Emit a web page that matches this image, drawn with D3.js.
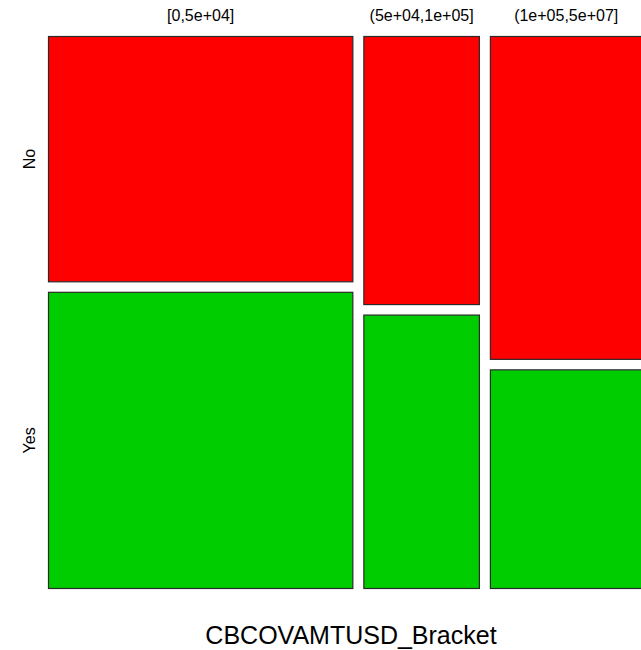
<!DOCTYPE html>
<html>
<head>
<meta charset="utf-8">
<script src="https://cdn.jsdelivr.net/npm/d3@7"></script>
<style>
  html, body { margin: 0; padding: 0; background: #ffffff; }
  svg { display: block; }
  text { font-family: "Liberation Sans", Arial, sans-serif; fill: #000; }
</style>
</head>
<body>
<svg id="chart" width="641" height="650"></svg>
<script>
// Contingency counts: coverage-amount bracket (columns) by outcome (rows)
const brackets = ["[0,5e+04]", "(5e+04,1e+05]", "(1e+05,5e+07]"];
const outcomes = ["No", "Yes"];
const countsNo  = [241, 100, 158];
const countsYes = [291, 102, 107];
const tileColors = ["#FF0000", "#00CD00"];
const xTitle = "CBCOVAMTUSD_Bracket";

const svg = d3.select("#chart");
// The last column runs slightly past the right edge of the canvas
const plot = { left: 48.5, right: 642, top: 36.5, bottom: 588.5 };
const gapX = 11, gapY = 10.5;

const totals = brackets.map((b, i) => countsNo[i] + countsYes[i]);
const grand = d3.sum(totals);

// Horizontal: column widths proportional to bracket totals
const usableW = (plot.right - plot.left) - gapX * (brackets.length - 1);
const xs = d3.scaleLinear().domain([0, grand]).range([0, usableW]);
const cumTotals = d3.cumsum([0, ...totals]);

// Vertical: split each column by the conditional share of each outcome
const usableH = (plot.bottom - plot.top) - gapY * (outcomes.length - 1);
const ys = d3.scaleLinear().domain([0, 1]).range([0, usableH]);

const tiles = [];
brackets.forEach((b, i) => {
  const x0 = plot.left + xs(cumTotals[i]) + i * gapX;
  const w = xs(totals[i]);
  const shares = [countsNo[i] / totals[i], countsYes[i] / totals[i]];
  let yCursor = plot.top;
  shares.forEach((s, j) => {
    const h = ys(s);
    tiles.push({ bracket: b, outcome: outcomes[j], x: x0, y: yCursor, w, h, color: tileColors[j], col: i, row: j });
    yCursor += h + gapY;
  });
});

svg.append("g")
  .selectAll("rect")
  .data(tiles)
  .join("rect")
  .attr("x", d => d.x)
  .attr("y", d => d.y)
  .attr("width", d => d.w)
  .attr("height", d => d.h)
  .attr("fill", d => d.color)
  .attr("stroke", "#2a2a2a")
  .attr("stroke-width", 1.2);

// Column labels along the top
svg.append("g")
  .selectAll("text")
  .data(brackets)
  .join("text")
  .attr("x", (b, i) => plot.left + xs(cumTotals[i]) + i * gapX + xs(totals[i]) / 2)
  .attr("y", 21)
  .attr("text-anchor", "middle")
  .style("font-size", "16px")
  .text(d => d);

// Row labels on the left, centred on the first column's tiles
svg.append("g")
  .selectAll("text")
  .data(tiles.filter(t => t.col === 0))
  .join("text")
  .attr("transform", d => `translate(35,${d.y + d.h / 2}) rotate(-90)`)
  .attr("text-anchor", "middle")
  .style("font-size", "16px")
  .text(d => d.outcome);

// Axis title
svg.append("text")
  .attr("x", 351)
  .attr("y", 643.5)
  .attr("text-anchor", "middle")
  .style("font-size", "25px")
  .text(xTitle);
</script>
</body>
</html>
